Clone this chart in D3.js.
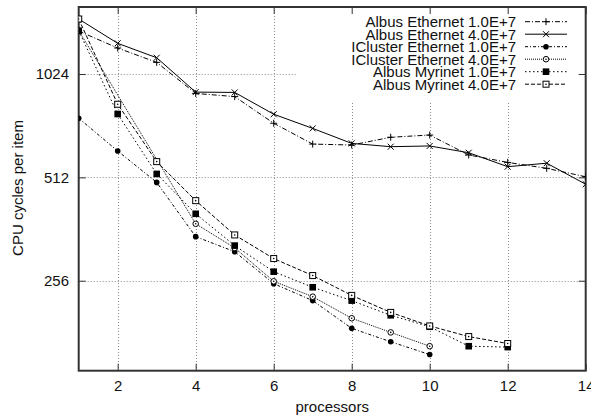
<!DOCTYPE html>
<html>
<head>
<meta charset="utf-8">
<script src="https://cdn.jsdelivr.net/npm/d3@7/dist/d3.min.js"></script>
<style>
  html, body { margin: 0; padding: 0; background: #fff; }
  svg { display: block; font-family: "Liberation Sans", Arial, Helvetica, sans-serif; }
</style>
</head>
<body>
<svg id="chart" width="591" height="420"></svg>
<script>
// ---- data ----
const seriesNames = [
  "Albus Ethernet 1.0E+7",
  "Albus Ethernet 4.0E+7",
  "ICluster Ethernet 1.0E+7",
  "ICluster Ethernet 4.0E+7",
  "Albus Myrinet 1.0E+7",
  "Albus Myrinet 4.0E+7"
];
const albusEth1X = [1, 2, 3, 4, 5, 6, 7, 8, 9, 10, 11, 12, 13, 14];
const albusEth1Y = [1366, 1219, 1107, 899, 880, 736, 640, 636, 670, 680, 595, 566, 544, 514];
const albusEth4X = [1, 2, 3, 4, 5, 6, 7, 8, 9, 10, 11, 12, 13, 14];
const albusEth4Y = [1481, 1258, 1142, 907, 905, 782, 711, 643, 629, 632, 604, 550, 563, 489];
const iclEth1X = [1, 2, 3, 4, 5, 6, 7, 8, 9, 10];
const iclEth1Y = [761, 611, 495, 344, 311, 251, 224, 186, 170, 156];
const iclEth4X = [1, 4, 5, 6, 7, 8, 9, 10];
const iclEth4Y = [1370, 375, 319, 255, 230, 199, 181, 165];
const albusMyr1X = [1, 2, 3, 4, 5, 6, 7, 8, 9, 10, 11, 12];
const albusMyr1Y = [1369, 783, 524, 401, 324, 272, 245, 224, 203, 188, 165, 164];
const albusMyr4X = [1, 2, 3, 4, 5, 6, 7, 8, 9, 10, 11, 12];
const albusMyr4Y = [1481, 836, 569, 438, 348, 297, 265, 232, 207, 189, 176, 168];
const xTicks = [2, 4, 6, 8, 10, 12, 14];
const yTicks = [256, 512, 1024];
const xLabel = "processors";
const yLabel = "CPU cycles per item";

// ---- layout ----
const W = 591, H = 420;
const m = { left: 78.7, right: 5.3, top: 7, bottom: 49.3 };
const x0 = m.left, x1 = W - m.right, y0 = m.top, y1 = H - m.bottom;

const x = d3.scaleLinear().domain([1, 14]).range([x0, x1]);
const y = d3.scaleLog().base(2).domain([140, 1605]).range([y1, y0]);

const svg = d3.select("#chart");

// key region (grid is not drawn under the key)
const keyLeft = 296, keyBottom = 103;
const defs = svg.append("defs");
defs.append("clipPath").attr("id", "gridclip").append("path")
  .attr("d", `M${x0},${y0} L${keyLeft},${y0} L${keyLeft},${keyBottom} L${x1},${keyBottom} L${x1},${y1} L${x0},${y1} Z`);
defs.append("clipPath").attr("id", "plotclip").append("rect")
  .attr("x", x0).attr("y", y0).attr("width", x1 - x0).attr("height", y1 - y0);

// grid
const grid = svg.append("g").attr("clip-path", "url(#gridclip)")
  .attr("stroke", "#8a8a8a").attr("stroke-width", 1).attr("stroke-dasharray", "1,2");
grid.selectAll("line.gx").data(xTicks.filter(t => t < 14)).join("line")
  .attr("x1", d => Math.round(x(d)) + 0.5).attr("x2", d => Math.round(x(d)) + 0.5)
  .attr("y1", y0).attr("y2", y1);
grid.selectAll("line.gy").data(yTicks).join("line")
  .attr("y1", d => Math.round(y(d)) + 0.5).attr("y2", d => Math.round(y(d)) + 0.5)
  .attr("x1", x0).attr("x2", x1);

// axes with inward ticks + labels
const tickLen = 7;
const fontSize = 15;
const axB = svg.append("g").attr("transform", `translate(0,${y1})`)
  .call(d3.axisBottom(x).tickValues(xTicks).tickSize(-tickLen).tickPadding(9.7).tickFormat(d3.format("d")));
const axT = svg.append("g").attr("transform", `translate(0,${y0})`)
  .call(d3.axisTop(x).tickValues(xTicks).tickSize(-tickLen).tickFormat(""));
const axL = svg.append("g").attr("transform", `translate(${x0},0)`)
  .call(d3.axisLeft(y).tickValues(yTicks).tickSize(-tickLen).tickPadding(9.7).tickFormat(d3.format("d")));
const axR = svg.append("g").attr("transform", `translate(${x1},0)`)
  .call(d3.axisRight(y).tickValues(yTicks).tickSize(-tickLen).tickFormat(""));
[axB, axT, axL, axR].forEach(a => {
  a.select(".domain").remove();
  a.selectAll(".tick line").attr("stroke", "#333").attr("stroke-width", 1);
  a.selectAll(".tick text").attr("fill", "#111").style("font-size", fontSize + "px")
    .style("font-family", '"Liberation Sans", Arial, sans-serif');
});

// border
svg.append("rect").attr("x", x0).attr("y", y0).attr("width", x1 - x0).attr("height", y1 - y0)
  .attr("fill", "none").attr("stroke", "#333").attr("stroke-width", 2);

// axis titles
svg.append("text").attr("x", (x0 + x1) / 2).attr("y", 412).attr("text-anchor", "middle")
  .style("font-size", fontSize + "px").attr("fill", "#111").text(xLabel);
svg.append("text").attr("transform", `translate(22.7,${188}) rotate(-90)`).attr("text-anchor", "middle")
  .style("font-size", fontSize + "px").attr("fill", "#111").text(yLabel);

// series definitions
const series = [
  { name: seriesNames[0], xs: albusEth1X, ys: albusEth1Y, dash: "5,2,1,2", sym: "plus" },
  { name: seriesNames[1], xs: albusEth4X, ys: albusEth4Y, dash: null, sym: "cross" },
  { name: seriesNames[2], xs: iclEth1X, ys: iclEth1Y, dash: "3,2,1,2", sym: "dot" },
  { name: seriesNames[3], xs: iclEth4X, ys: iclEth4Y, dash: "1,1", sym: "circle" },
  { name: seriesNames[4], xs: albusMyr1X, ys: albusMyr1Y, dash: "1.5,2.5", sym: "fsquare" },
  { name: seriesNames[5], xs: albusMyr4X, ys: albusMyr4Y, dash: "4,2", sym: "osquare" }
];

function drawSymbol(g, type, cx, cy) {
  const s = 3.5;
  if (type === "plus") {
    g.append("path").attr("d", `M${cx - s},${cy}H${cx + s}M${cx},${cy - s}V${cy + s}`)
      .attr("stroke", "#000").attr("stroke-width", 1).attr("fill", "none");
  } else if (type === "cross") {
    const c = 3;
    g.append("path").attr("d", `M${cx - c},${cy - c}L${cx + c},${cy + c}M${cx - c},${cy + c}L${cx + c},${cy - c}`)
      .attr("stroke", "#000").attr("stroke-width", 1).attr("fill", "none");
  } else if (type === "dot") {
    g.append("circle").attr("cx", cx).attr("cy", cy).attr("r", 2.8).attr("fill", "#000");
  } else if (type === "circle") {
    g.append("circle").attr("cx", cx).attr("cy", cy).attr("r", 2.8)
      .attr("fill", "#fff").attr("stroke", "#000").attr("stroke-width", 1);
    g.append("circle").attr("cx", cx).attr("cy", cy).attr("r", 0.8).attr("fill", "#000");
  } else if (type === "fsquare") {
    g.append("rect").attr("x", cx - 3.3).attr("y", cy - 3.3).attr("width", 6.6).attr("height", 6.6).attr("fill", "#000");
  } else if (type === "osquare") {
    g.append("rect").attr("x", cx - 3).attr("y", cy - 3).attr("width", 6).attr("height", 6)
      .attr("fill", "#fff").attr("stroke", "#000").attr("stroke-width", 1);
    g.append("circle").attr("cx", cx).attr("cy", cy).attr("r", 0.8).attr("fill", "#000");
  }
}

const line = d3.line().x(d => x(d[0])).y(d => y(d[1]));
const plot = svg.append("g").attr("clip-path", "url(#plotclip)");

// legend geometry
const keyTextRight = 516, keySampleX1 = 525, keySampleX2 = 567, keyRow0 = 21.7, keyRowStep = 12.5;

series.forEach((s, i) => {
  const pts = s.xs.map((xv, k) => [xv, s.ys[k]]);
  const g = plot.append("g");
  const p = g.append("path").attr("d", line(pts)).attr("fill", "none")
    .attr("stroke", "#000").attr("stroke-width", 1);
  if (s.dash) p.attr("stroke-dasharray", s.dash);
  pts.forEach(d => drawSymbol(g, s.sym, x(d[0]), y(d[1])));

  // legend
  const ky = keyRow0 + i * keyRowStep;
  svg.append("text").attr("x", keyTextRight).attr("y", ky + 5.3).attr("text-anchor", "end")
    .style("font-size", fontSize + "px").attr("fill", "#111").text(s.name);
  const lg = svg.append("g");
  const lp = lg.append("line").attr("x1", keySampleX1).attr("x2", keySampleX2).attr("y1", ky).attr("y2", ky)
    .attr("stroke", "#000").attr("stroke-width", 1);
  if (s.dash) lp.attr("stroke-dasharray", s.dash);
  drawSymbol(lg, s.sym, (keySampleX1 + keySampleX2) / 2, ky);
});
</script>
</body>
</html>
